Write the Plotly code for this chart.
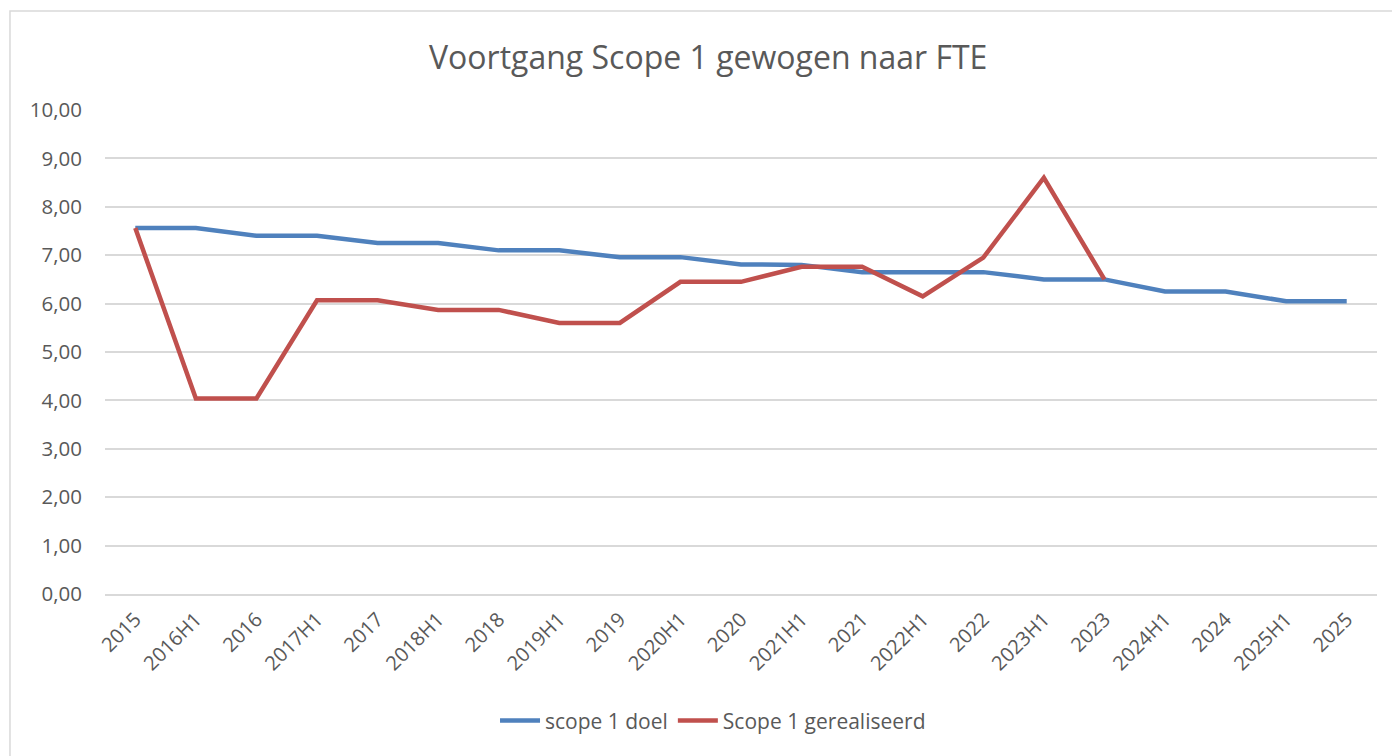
import plotly.graph_objects as go

periods = ["2015", "2016H1", "2016", "2017H1", "2017", "2018H1", "2018", "2019H1",
           "2019", "2020H1", "2020", "2021H1", "2021", "2022H1", "2022", "2023H1",
           "2023", "2024H1", "2024", "2025H1", "2025"]

doel = [7.56, 7.56, 7.40, 7.40, 7.25, 7.25, 7.10, 7.10, 6.96, 6.96, 6.81,
        6.80, 6.65, 6.65, 6.65, 6.50, 6.50, 6.25, 6.25, 6.05, 6.05]

gerealiseerd = [7.56, 4.04, 4.04, 6.07, 6.07, 5.87, 5.87, 5.60, 5.60, 6.45, 6.45,
                6.76, 6.76, 6.15, 6.95, 8.60, 6.50]

y_ticks = [0, 1, 2, 3, 4, 5, 6, 7, 8, 9, 10]

TXT = "#595959"
BLUE = "#4F81BD"
RED = "#C0504D"

fig = go.Figure()
fig.add_trace(go.Scatter(
    x=periods, y=doel, mode="lines", name="scope 1 doel",
    line=dict(color=BLUE, width=4.5),
))
fig.add_trace(go.Scatter(
    x=periods[:len(gerealiseerd)], y=gerealiseerd, mode="lines",
    name="Scope 1 gerealiseerd",
    line=dict(color=RED, width=4.5),
))

# page has an 8px body margin, so the figure is a bit smaller than the window
fig.update_layout(
    width=1392, height=748,
    paper_bgcolor="white", plot_bgcolor="white",
    font=dict(family="Open Sans", color=TXT, size=20),
    title=dict(text="Voortgang Scope 1 gewogen naar FTE", x=0.503, xanchor="center",
               y=0.934, yanchor="middle", font=dict(size=32, color=TXT)),
    margin=dict(l=97, r=23, t=102, b=162),
    showlegend=True,
    legend=dict(orientation="h", x=0.478, xanchor="center", y=-0.262, yanchor="middle",
                font=dict(size=21, color=TXT), bgcolor="rgba(0,0,0,0)",
                itemwidth=40, tracegroupgap=0),
    shapes=[dict(type="rect", xref="paper", yref="paper",
                 x0=-0.0747, x1=1.2, y0=-0.5, y1=1.2045,
                 line=dict(color="#D9D9D9", width=1.5), fillcolor="rgba(0,0,0,0)",
                 layer="below")],
)

fig.update_xaxes(
    type="category", range=[-0.5, len(periods) - 0.5],
    tickangle=-45, showgrid=False, showline=True, linecolor="#D9D9D9", linewidth=1.5,
    ticks="", tickfont=dict(size=20, color=TXT), ticklabelstandoff=4,
)
fig.update_yaxes(
    range=[0, 10], tickvals=y_ticks,
    ticktext=[f"{v},00" for v in y_ticks],
    showgrid=True, gridcolor="#D9D9D9", gridwidth=1.5, zeroline=False,
    showline=False, ticks="", tickfont=dict(size=20.5, color=TXT), ticklabelstandoff=22,
)

fig.write_html("out.html")
